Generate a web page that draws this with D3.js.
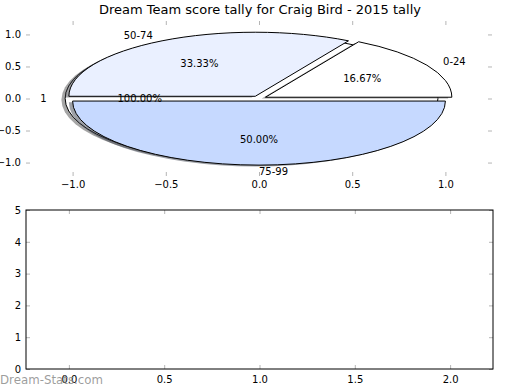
<!DOCTYPE html>
<html>
<head>
<meta charset="utf-8">
<script src="https://cdn.jsdelivr.net/npm/d3@7"></script>
<style>
  body { margin: 0; background: #fff; }
  svg { display: block; font-family: "DejaVu Sans", sans-serif; }
  .tick line { stroke: #b5b5b5; }
</style>
</head>
<body>
<svg id="chart" width="520" height="390"></svg>
<script>
// score buckets for the main pie
const bands = ["0-24", "50-74", "75-99"];
const counts = [1, 2, 3];
const colors = ["#ffffff", "#eaf0ff", "#c6d9ff"];
// the single full pie drawn behind
const fullLabels = ["1"];
const fullCounts = [1];
const fullColors = ["#ffffff"];

const pieTicksX = [-1.0, -0.5, 0.0, 0.5, 1.0];
const pieTicksY = [-1.0, -0.5, 0.0, 0.5, 1.0];
const emptyTicksX = [0.0, 0.5, 1.0, 1.5, 2.0];
const emptyTicksY = [0, 1, 2, 3, 4, 5];

const title = "Dream Team score tally for Craig Bird - 2015 tally";
const explode = 0.04;

const svg = d3.select("#chart");

// top axes (pie)
const x = d3.scaleLinear().domain([-1.25, 1.25]).range([26, 492]);
const y = d3.scaleLinear().domain([-1.21, 1.21]).range([176, 21]);

svg.append("text")
  .attr("x", 260).attr("y", 14)
  .attr("text-anchor", "middle")
  .attr("font-size", 13)
  .text(title);

function tickAxes(g, xs, ys, xt, yt, top, bottom, left, right, fmtX, fmtY, padX, padY) {
  g.append("g").attr("transform", `translate(0,${bottom})`)
    .call(d3.axisBottom(xs).tickValues(xt).tickFormat(fmtX).tickSizeInner(-4).tickSizeOuter(0).tickPadding(padX));
  g.append("g").attr("transform", `translate(0,${top})`)
    .call(d3.axisTop(xs).tickValues(xt).tickFormat("").tickSizeInner(-4).tickSizeOuter(0));
  g.append("g").attr("transform", `translate(${left},0)`)
    .call(d3.axisLeft(ys).tickValues(yt).tickFormat(fmtY).tickSizeInner(-4).tickSizeOuter(0).tickPadding(padY));
  g.append("g").attr("transform", `translate(${right},0)`)
    .call(d3.axisRight(ys).tickValues(yt).tickFormat("").tickSizeInner(-4).tickSizeOuter(0));
  g.selectAll(".domain").remove();
  g.selectAll(".tick text").attr("font-size", 10).attr("fill", "#000")
    .attr("font-family", "DejaVu Sans, sans-serif");
}

const topAx = svg.append("g");
tickAxes(topAx, x, y, pieTicksX, pieTicksY, 21, 176, 26, 492, d3.format(".1f"), d3.format(".1f"), 5, 5);

// pie drawn in data units, flipped y, so the wedges come out elliptic
const kx = x(1) - x(0), ky = y(0) - y(1);
const pieG = svg.append("g")
  .attr("transform", `translate(${x(0)},${y(0)}) scale(${kx},${-ky})`);

const arc = d3.arc().innerRadius(0).outerRadius(1);
const makePie = d3.pie().sort(null).value(d => d).startAngle(Math.PI / 2).endAngle(Math.PI / 2 + 2 * Math.PI);

function shade(c) {
  const r = d3.rgb(c);
  return d3.rgb(r.r * 0.3, r.g * 0.3, r.b * 0.3).toString();
}

function drawPie(vals, cols, labels) {
  const arcs = makePie(vals);
  const total = d3.sum(vals);
  arcs.forEach(a => {
    const mid = (a.startAngle + a.endAngle) / 2 - Math.PI / 2; // matplotlib angle
    a.dx = explode * Math.cos(mid);
    a.dy = explode * Math.sin(mid);
    a.mid = mid;
  });
  // shadows first
  pieG.selectAll(null).data(arcs).enter().append("path")
    .attr("d", arc)
    .attr("transform", a => `translate(${a.dx - 0.02},${a.dy - 0.02})`)
    .attr("fill", (a, i) => shade(cols[i]))
    .attr("fill-opacity", 0.5);
  pieG.selectAll(null).data(arcs).enter().append("path")
    .attr("d", arc)
    .attr("transform", a => `translate(${a.dx},${a.dy})`)
    .attr("fill", (a, i) => cols[i])
    .attr("stroke", "#000")
    .attr("stroke-width", 1)
    .attr("vector-effect", "non-scaling-stroke");
  return arcs.map((a, i) => ({ a, label: labels[i], pct: 100 * vals[i] / total }));
}

const fullInfo = drawPie(fullCounts, fullColors, fullLabels);
const mainInfo = drawPie(counts, colors, bands);

const txt = svg.append("g").attr("font-size", 10);
[...fullInfo, ...mainInfo].forEach(d => {
  const c = Math.cos(d.a.mid), s = Math.sin(d.a.mid);
  const lx = d.a.dx + 1.1 * c, ly = d.a.dy + 1.1 * s;
  txt.append("text")
    .attr("x", x(lx)).attr("y", y(ly))
    .attr("dy", "0.35em")
    .attr("text-anchor", c < -1e-9 ? "end" : "start")
    .text(d.label);
  txt.append("text")
    .attr("x", x(d.a.dx + 0.6 * c)).attr("y", y(d.a.dy + 0.6 * s))
    .attr("dy", "0.35em")
    .attr("text-anchor", "middle")
    .text(d.pct.toFixed(2) + "%");
});

// bottom axes, empty
const x2 = d3.scaleLinear().domain([-0.225, 2.225]).range([26, 493]);
const y2 = d3.scaleLinear().domain([0, 5]).range([369, 210]);
const botAx = svg.append("g");
tickAxes(botAx, x2, y2, emptyTicksX, emptyTicksY, 210, 369, 26, 493, d3.format(".1f"), d3.format("d"), 7, 5);
botAx.append("rect")
  .attr("x", 26).attr("y", 210).attr("width", 467).attr("height", 159)
  .attr("fill", "none").attr("stroke", "#000").attr("stroke-width", 1);

svg.append("text")
  .attr("x", 0).attr("y", 384)
  .attr("font-size", 11.8)
  .attr("fill", "#8c8c8c")
  .attr("fill-opacity", 0.85)
  .text("Dream-Stats.com");
</script>
</body>
</html>
